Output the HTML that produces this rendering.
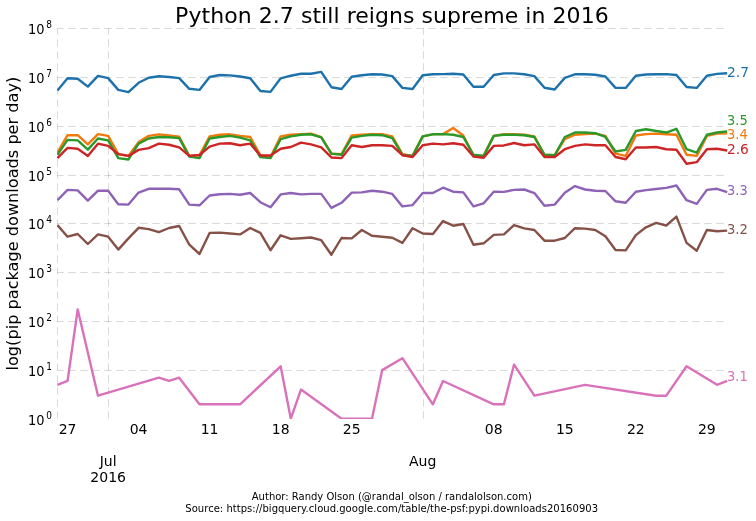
<!DOCTYPE html>
<html><head><meta charset="utf-8"><title>Python 2.7 still reigns supreme in 2016</title>
<style>
html,body{margin:0;padding:0;background:#fff;}
body{width:756px;height:521px;overflow:hidden;font-family:"DejaVu Sans","Liberation Sans",sans-serif;}
svg{display:block;font-family:"DejaVu Sans","Liberation Sans",sans-serif;}
</style></head><body>
<svg width="756" height="521" viewBox="0 0 756 521">
<rect width="756" height="521" fill="#ffffff"/>
<g stroke="#000" stroke-opacity="0.15" stroke-width="1" stroke-dashoffset="1.2" stroke-dasharray="7.5,4.5" fill="none">
<line x1="57.40" y1="370.50" x2="727.20" y2="370.50"/>
<line x1="57.40" y1="321.50" x2="727.20" y2="321.50"/>
<line x1="57.40" y1="272.50" x2="727.20" y2="272.50"/>
<line x1="57.40" y1="223.50" x2="727.20" y2="223.50"/>
<line x1="57.40" y1="175.50" x2="727.20" y2="175.50"/>
<line x1="57.40" y1="126.50" x2="727.20" y2="126.50"/>
<line x1="57.40" y1="77.50" x2="727.20" y2="77.50"/>
<line x1="57.40" y1="28.50" x2="727.20" y2="28.50"/>
<line x1="57.50" y1="28.40" x2="57.50" y2="419.30"/>
<line x1="108.50" y1="28.40" x2="108.50" y2="419.30"/>
<line x1="423.50" y1="28.40" x2="423.50" y2="419.30"/>
</g>
<clipPath id="ax"><rect x="57" y="20" width="671" height="399"/></clipPath>
<g fill="none" stroke-width="2.4" stroke-linejoin="round" stroke-linecap="butt" clip-path="url(#ax)">
<path d="M57.40 90.60 L67.55 78.30 L77.70 78.80 L87.84 86.60 L97.99 75.90 L108.14 78.10 L118.29 89.90 L128.44 92.10 L138.58 82.80 L148.73 77.70 L158.88 76.30 L169.03 77.00 L179.18 78.10 L189.32 88.80 L199.47 89.90 L209.62 77.00 L219.77 75.00 L229.92 75.40 L240.06 76.50 L250.21 78.30 L260.36 91.00 L270.51 91.90 L280.66 78.30 L290.80 75.70 L300.95 73.70 L311.10 73.70 L321.25 71.90 L331.40 87.20 L341.54 89.00 L351.69 76.80 L361.84 75.20 L371.99 74.30 L382.14 74.50 L392.28 76.10 L402.43 87.90 L412.58 89.00 L422.73 75.20 L432.88 74.30 L443.02 74.10 L453.17 73.70 L463.32 74.50 L473.47 86.80 L483.62 86.80 L493.76 75.00 L503.91 73.40 L514.06 73.40 L524.21 74.30 L534.36 76.10 L544.50 87.70 L554.65 89.50 L564.80 77.90 L574.95 74.30 L585.10 74.30 L595.24 74.80 L605.39 76.50 L615.54 87.90 L625.69 87.90 L635.84 75.70 L645.98 74.50 L656.13 74.30 L666.28 74.10 L676.43 75.00 L686.58 87.00 L696.72 87.90 L706.87 75.70 L717.02 73.90 L727.17 73.20" stroke="#1d72ac"/>
<path d="M57.40 152.57 L67.55 135.21 L77.70 135.21 L87.84 144.34 L97.99 134.10 L108.14 135.88 L118.29 154.13 L128.44 155.91 L138.58 142.11 L148.73 135.88 L158.88 134.32 L169.03 135.44 L179.18 136.77 L189.32 155.91 L199.47 155.24 L209.62 136.33 L219.77 134.77 L229.92 134.32 L240.06 135.88 L250.21 136.99 L260.36 155.24 L270.51 157.02 L280.66 136.33 L290.80 134.77 L300.95 134.10 L311.10 133.66 L321.25 137.10 L331.40 153.68 L341.54 154.13 L351.69 135.44 L361.84 134.77 L371.99 134.10 L382.14 134.10 L392.28 136.33 L402.43 154.13 L412.58 155.91 L422.73 136.33 L432.88 134.10 L443.02 134.10 L453.17 128.09 L463.32 135.44 L473.47 155.24 L483.62 155.91 L493.76 135.88 L503.91 134.10 L514.06 134.10 L524.21 134.77 L534.36 136.33 L544.50 154.80 L554.65 155.24 L564.80 139.22 L574.95 134.77 L585.10 134.10 L595.24 133.66 L605.39 135.88 L615.54 153.68 L625.69 155.91 L635.84 135.44 L645.98 134.10 L656.13 133.66 L666.28 134.32 L676.43 134.77 L686.58 154.80 L696.72 155.91 L706.87 135.88 L717.02 133.66 L727.17 133.21" stroke="#f4790d"/>
<path d="M57.40 154.80 L67.55 139.89 L77.70 140.33 L87.84 149.68 L97.99 138.55 L108.14 140.33 L118.29 158.13 L128.44 159.47 L138.58 143.67 L148.73 138.55 L158.88 136.99 L169.03 137.22 L179.18 138.11 L189.32 156.58 L199.47 158.13 L209.62 138.55 L219.77 136.99 L229.92 135.88 L240.06 137.66 L250.21 140.33 L260.36 157.02 L270.51 158.13 L280.66 139.22 L290.80 136.33 L300.95 134.77 L311.10 134.32 L321.25 137.30 L331.40 153.68 L341.54 154.80 L351.69 137.66 L361.84 135.88 L371.99 134.77 L382.14 135.21 L392.28 138.11 L402.43 154.80 L412.58 155.91 L422.73 136.33 L432.88 134.32 L443.02 134.10 L453.17 134.77 L463.32 136.99 L473.47 154.80 L483.62 155.91 L493.76 135.88 L503.91 134.77 L514.06 134.77 L524.21 135.21 L534.36 136.99 L544.50 154.80 L554.65 155.24 L564.80 136.99 L574.95 132.54 L585.10 132.54 L595.24 133.21 L605.39 136.99 L615.54 151.46 L625.69 149.90 L635.84 130.99 L645.98 129.21 L656.13 130.99 L666.28 132.54 L676.43 128.76 L686.58 149.23 L696.72 152.57 L706.87 134.77 L717.02 132.54 L727.17 131.43" stroke="#2a992a"/>
<path d="M57.40 158.13 L67.55 147.90 L77.70 148.79 L87.84 155.91 L97.99 143.67 L108.14 145.89 L118.29 154.13 L128.44 155.91 L138.58 149.90 L148.73 148.12 L158.88 143.67 L169.03 144.78 L179.18 147.45 L189.32 155.91 L199.47 155.02 L209.62 146.56 L219.77 143.67 L229.92 143.22 L240.06 145.23 L250.21 143.67 L260.36 155.46 L270.51 155.46 L280.66 148.79 L290.80 147.01 L300.95 142.56 L311.10 144.34 L321.25 147.45 L331.40 157.47 L341.54 158.13 L351.69 145.23 L361.84 147.01 L371.99 145.23 L382.14 145.23 L392.28 145.89 L402.43 155.24 L412.58 157.02 L422.73 145.23 L432.88 143.67 L443.02 144.34 L453.17 143.22 L463.32 144.78 L473.47 156.58 L483.62 157.69 L493.76 145.89 L503.91 145.45 L514.06 143.00 L524.21 145.23 L534.36 144.34 L544.50 157.02 L554.65 157.02 L564.80 149.23 L574.95 145.89 L585.10 144.34 L595.24 145.23 L605.39 145.23 L615.54 157.02 L625.69 159.25 L635.84 147.45 L645.98 147.45 L656.13 147.01 L666.28 149.23 L676.43 149.68 L686.58 163.70 L696.72 162.14 L706.87 149.23 L717.02 148.79 L727.17 150.48" stroke="#cd2526"/>
<path d="M57.40 200.20 L67.55 189.90 L77.70 190.40 L87.84 200.60 L97.99 190.60 L108.14 190.80 L118.29 204.20 L128.44 204.60 L138.58 192.60 L148.73 188.80 L158.88 188.60 L169.03 188.80 L179.18 189.30 L189.32 204.60 L199.47 205.30 L209.62 195.50 L219.77 194.20 L229.92 193.90 L240.06 194.80 L250.21 193.00 L260.36 202.20 L270.51 207.30 L280.66 194.40 L290.80 193.00 L300.95 194.40 L311.10 193.90 L321.25 193.90 L331.40 207.90 L341.54 202.80 L351.69 192.60 L361.84 192.40 L371.99 190.80 L382.14 191.70 L392.28 193.90 L402.43 206.40 L412.58 205.10 L422.73 193.00 L432.88 193.00 L443.02 187.70 L453.17 191.70 L463.32 192.40 L473.47 206.40 L483.62 203.30 L493.76 191.70 L503.91 191.90 L514.06 189.90 L524.21 189.50 L534.36 193.10 L544.50 205.70 L554.65 204.60 L564.80 192.80 L574.95 186.10 L585.10 189.50 L595.24 190.80 L605.39 191.00 L615.54 201.30 L625.69 202.80 L635.84 191.70 L645.98 190.10 L656.13 189.00 L666.28 187.90 L676.43 185.50 L686.58 200.20 L696.72 203.90 L706.87 189.90 L717.02 188.80 L727.17 192.10" stroke="#8e62b5"/>
<path d="M57.40 225.10 L67.55 236.70 L77.70 234.00 L87.84 244.00 L97.99 234.40 L108.14 236.70 L118.29 249.60 L128.44 238.40 L138.58 227.80 L148.73 229.10 L158.88 232.20 L169.03 228.00 L179.18 226.00 L189.32 244.70 L199.47 254.00 L209.62 232.90 L219.77 232.60 L229.92 233.50 L240.06 234.40 L250.21 228.00 L260.36 232.90 L270.51 250.20 L280.66 235.30 L290.80 238.90 L300.95 238.20 L311.10 237.50 L321.25 240.20 L331.40 254.70 L341.54 238.00 L351.69 238.40 L361.84 230.00 L371.99 235.80 L382.14 236.70 L392.28 237.80 L402.43 242.90 L412.58 228.20 L422.73 233.50 L432.88 234.00 L443.02 221.10 L453.17 225.70 L463.32 224.00 L473.47 244.70 L483.62 243.30 L493.76 234.90 L503.91 234.40 L514.06 225.10 L524.21 228.40 L534.36 230.00 L544.50 240.70 L554.65 240.70 L564.80 238.00 L574.95 228.20 L585.10 228.60 L595.24 230.00 L605.39 236.20 L615.54 250.00 L625.69 250.40 L635.84 235.10 L645.98 227.30 L656.13 222.90 L666.28 225.50 L676.43 216.60 L686.58 242.90 L696.72 250.70 L706.87 230.00 L717.02 231.30 L727.17 230.60" stroke="#865248"/>
<path d="M57.40 384.85 L67.55 380.98 L77.70 309.40 L97.99 395.69 L158.88 377.71 L169.03 380.98 L179.18 377.71 L199.47 404.29 L240.06 404.29 L280.66 366.27 L290.80 418.70 L300.95 389.58 L341.54 418.70 L371.99 418.70 L382.14 370.14 L402.43 358.20 L432.88 404.29 L443.02 380.98 L493.76 404.29 L503.91 404.29 L514.06 364.57 L534.36 395.69 L585.10 384.85 L656.13 395.69 L666.28 395.69 L686.58 366.27 L717.02 384.85 L727.17 380.98" stroke="#d972ba"/>
</g>
<g fill="#000">
<text x="391.9" y="23" text-anchor="middle" font-size="22" textLength="433.6" lengthAdjust="spacing">Python 2.7 still reigns supreme in 2016</text>
<text transform="translate(17.8,223.6) rotate(-90)" text-anchor="middle" font-size="16.15">log(pip package downloads per day)</text>
<text transform="translate(44.4,424.90) scale(0.94,1)" text-anchor="end" font-size="13.8">10</text><text transform="translate(46.3,419.00) scale(0.9,1)" font-size="10">0</text>
<text transform="translate(44.4,375.60) scale(0.94,1)" text-anchor="end" font-size="13.8">10</text><text transform="translate(46.3,369.70) scale(0.9,1)" font-size="10">1</text>
<text transform="translate(44.4,326.60) scale(0.94,1)" text-anchor="end" font-size="13.8">10</text><text transform="translate(46.3,320.70) scale(0.9,1)" font-size="10">2</text>
<text transform="translate(44.4,277.60) scale(0.94,1)" text-anchor="end" font-size="13.8">10</text><text transform="translate(46.3,271.70) scale(0.9,1)" font-size="10">3</text>
<text transform="translate(44.4,228.60) scale(0.94,1)" text-anchor="end" font-size="13.8">10</text><text transform="translate(46.3,222.70) scale(0.9,1)" font-size="10">4</text>
<text transform="translate(44.4,180.60) scale(0.94,1)" text-anchor="end" font-size="13.8">10</text><text transform="translate(46.3,174.70) scale(0.9,1)" font-size="10">5</text>
<text transform="translate(44.4,131.60) scale(0.94,1)" text-anchor="end" font-size="13.8">10</text><text transform="translate(46.3,125.70) scale(0.9,1)" font-size="10">6</text>
<text transform="translate(44.4,82.60) scale(0.94,1)" text-anchor="end" font-size="13.8">10</text><text transform="translate(46.3,76.70) scale(0.9,1)" font-size="10">7</text>
<text transform="translate(44.4,33.60) scale(0.94,1)" text-anchor="end" font-size="13.8">10</text><text transform="translate(46.3,27.70) scale(0.9,1)" font-size="10">8</text>
<text x="67.55" y="434" text-anchor="middle" font-size="14">27</text>
<text x="138.58" y="434" text-anchor="middle" font-size="14">04</text>
<text x="209.62" y="434" text-anchor="middle" font-size="14">11</text>
<text x="280.66" y="434" text-anchor="middle" font-size="14">18</text>
<text x="351.69" y="434" text-anchor="middle" font-size="14">25</text>
<text x="493.76" y="434" text-anchor="middle" font-size="14">08</text>
<text x="564.80" y="434" text-anchor="middle" font-size="14">15</text>
<text x="635.84" y="434" text-anchor="middle" font-size="14">22</text>
<text x="706.87" y="434" text-anchor="middle" font-size="14">29</text>
<text x="108.14" y="466" text-anchor="middle" font-size="14">Jul</text>
<text x="108.14" y="482" text-anchor="middle" font-size="14">2016</text>
<text x="422.73" y="466" text-anchor="middle" font-size="14">Aug</text>
<text x="391.8" y="500" text-anchor="middle" font-size="10">Author: Randy Olson (@randal_olson / randalolson.com)</text>
<text x="391.7" y="512" text-anchor="middle" font-size="10" textLength="412.7" lengthAdjust="spacing">Source: https://bigquery.cloud.google.com/table/the-psf:pypi.downloads20160903</text>
</g>
<g>
<text transform="translate(727.0,76.50) scale(1.01,1)" font-size="13.7" fill="#1d72ac">2.7</text>
<text transform="translate(727.0,124.80) scale(0.95,1)" font-size="13.7" fill="#2a992a">3.5</text>
<text transform="translate(727.0,139.00) scale(0.95,1)" font-size="13.7" fill="#f4790d">3.4</text>
<text transform="translate(727.0,154.20) scale(1.005,1)" font-size="13.7" fill="#cd2526">2.6</text>
<text transform="translate(727.0,194.70) scale(0.95,1)" font-size="13.7" fill="#8e62b5">3.3</text>
<text transform="translate(727.0,233.50) scale(0.96,1)" font-size="13.7" fill="#865248">3.2</text>
<text transform="translate(727.0,380.50) scale(0.95,1)" font-size="13.7" fill="#d972ba">3.1</text>
</g>
</svg>
</body></html>
